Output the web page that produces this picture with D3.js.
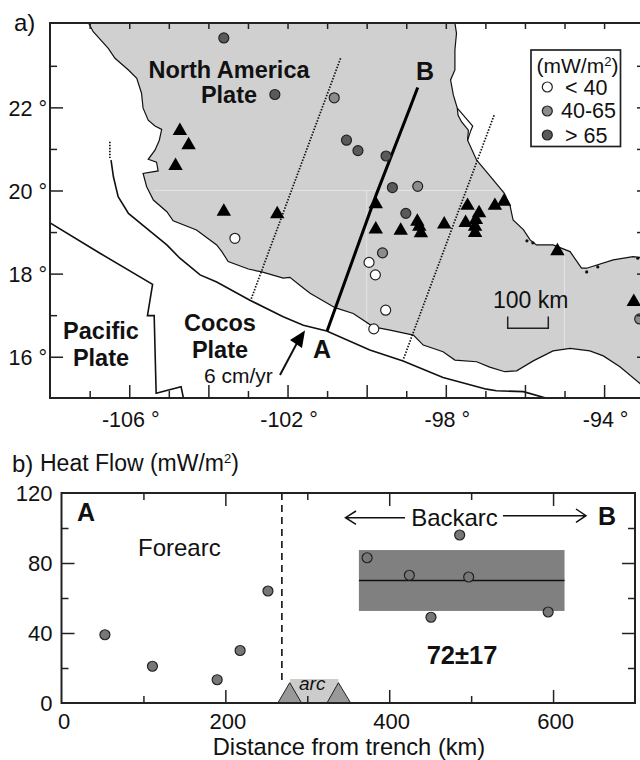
<!DOCTYPE html>
<html>
<head>
<meta charset="utf-8">
<script src="https://cdn.jsdelivr.net/npm/d3@7"></script>
<style>
body { margin: 0; background: #fff; }
text { font-family: "Liberation Sans", Arial, sans-serif; fill: #111; }
</style>
</head>
<body>
<div id="chart"></div>
<script>
// map outlines, all [lon, lat]
let landWest = [[-107.03,24.03],[-106.91,23.82],[-106.74,23.64],[-106.53,23.42],[-106.36,23.18],[-106.02,22.90],[-105.81,22.70],[-105.69,22.34],[-105.65,21.98],[-105.52,21.69],[-105.35,21.55],[-105.18,21.47],[-105.24,21.21],[-105.35,20.97],[-105.52,20.75],[-105.31,20.68],[-105.27,20.47],[-105.65,20.41],[-105.56,20.09],[-105.39,19.77],[-105.05,19.49],[-104.89,19.27],[-104.30,19.05],[-103.79,18.69],[-103.66,18.53],[-103.50,18.29],[-102.99,18.11],[-102.65,18.04],[-102.11,17.89],[-101.94,17.91],[-101.69,17.72],[-101.43,17.53],[-101.18,17.39],[-100.80,17.18],[-100.34,17.04],[-99.83,16.72],[-99.41,16.64],[-98.82,16.52],[-98.57,16.28],[-98.07,16.12],[-97.77,15.92],[-97.22,15.88],[-96.89,15.75],[-96.51,15.64],[-96.21,15.66],[-95.79,15.90],[-95.29,16.14],[-94.86,16.20],[-94.36,16.14],[-94.02,16.02],[-93.60,15.76],[-93.10,15.36],[-92.84,15.08]];
let landEast = [[-92.84,18.39],[-93.10,18.39],[-93.27,18.41],[-93.77,18.33],[-94.44,18.13],[-94.57,18.13],[-94.86,18.53],[-95.29,18.69],[-95.71,18.69],[-95.87,18.81],[-96.04,19.06],[-96.30,19.29],[-96.38,19.65],[-96.52,19.93],[-96.97,20.45],[-97.22,20.73],[-97.45,21.21],[-97.43,21.45],[-97.60,21.65],[-97.69,21.81],[-97.71,21.98],[-97.81,22.30],[-97.88,22.66],[-97.77,22.90],[-97.77,23.38],[-97.73,23.78],[-97.77,24.03]];
let barrier = [[-97.71,21.98],[-97.32,21.55],[-97.37,21.44],[-97.45,21.21]];
let coastSpecks = [[-94.44,18.04],[-94.16,18.16],[-93.15,18.37],[-95.80,18.74],[-95.95,18.79]];
let trench = [[-106.46,20.73],[-106.40,20.33],[-106.28,19.85],[-106.02,19.45],[-105.56,19.09],[-105.05,18.69],[-104.72,18.37],[-104.21,17.97],[-103.79,17.80],[-102.95,17.36],[-102.11,16.96],[-101.60,16.76],[-101.01,16.62],[-99.92,16.16],[-99.08,15.90],[-98.07,15.50],[-96.97,15.22],[-96.72,15.18],[-96.04,15.16],[-95.45,15.00]];
let trenchEnd = [[-106.49,21.17],[-106.49,20.78]];
let plateEdge = [[-108,19.22],[-106.74,18.49],[-105.41,17.74],[-105.54,16.99],[-105.37,16.99],[-105.32,15.12],[-104.69,15.28],[-104.63,15.00]];
let swathLeft = [[-100.66,23.18],[-102.93,17.36]];
let swathRight = [[-96.78,21.81],[-99.08,15.92]];
let profileAB = [[-98.71,22.48],[-98.91,21.98],[-99.77,19.87],[-101.00,16.62]];
let gridLines = [[[-105.39,20],[-96.5,20]],[[-100,20],[-100,16.68]],[[-95,18.6],[-95,16.18]]];

// heat flow sites on the map
let sitesHigh = [[-103.61,23.67],[-102.32,22.31],[-100.51,21.21],[-100.22,20.96],[-99.51,20.83],[-99.35,20.07],[-99.01,19.45]];
let sitesMid = [[-100.82,22.23],[-98.71,20.10],[-99.60,18.50],[-93.10,16.91]];
let sitesLow = [[-103.33,18.85],[-99.94,18.27],[-99.78,17.97],[-99.52,17.12],[-99.82,16.67]];
let volcanoes = [[-104.72,21.47],[-104.50,21.13],[-104.83,20.63],[-103.61,19.53],[-102.26,19.47],[-99.77,19.71],[-99.77,19.10],[-99.14,19.07],[-98.72,19.29],[-98.67,19.17],[-98.63,19.01],[-98.04,19.22],[-97.45,19.67],[-97.50,19.26],[-97.16,19.49],[-97.24,19.33],[-97.26,19.17],[-97.26,19.02],[-96.76,19.67],[-96.53,19.77],[-95.18,18.58],[-93.25,17.36]];

// panel b
let forearcDist = [53, 111, 190, 218, 252];
let forearcFlow = [39, 21, 13.3, 30, 64];
let backarcDist = [373, 424.6, 451, 486, 497, 594];
let backarcFlow = [83, 73, 49, 96, 72, 52];
let backarcBand = [363, 614, 52.6, 87.4];
let backarcMean = 70;
let arcFront = 269;
let arcBand = [279, 338, 13.7];
let arcPeaks = [[264, 278.6, 293], [324, 338, 353]];

let lonMajor = [-106, -104, -102, -100, -98, -96, -94];
let lonMinor = [-107, -105, -103, -101, -99, -97, -95, -93];
let lonLabels = [-106, -102, -98, -94];
let latMajor = [16, 18, 20, 22];
let latMinor = [17, 19, 21, 23];
let distMajor = [200, 400, 600];
let distMinor = [100, 300, 500];
let flowMajor = [40, 80];
let flowMinor = [20, 60, 100];

let svg = d3.select("#chart").append("svg").attr("width", 640).attr("height", 760);

let xMap = d3.scaleLinear().domain([-108, -92.84]).range([50.1, 650]);
let yMap = d3.scaleLinear().domain([15, 24.03]).range([398.3, 23]);
let xHeat = d3.scaleLinear().domain([0, 700]).range([61.5, 635]);
let yHeat = d3.scaleLinear().domain([0, 120]).range([703, 493]);

let mapLine = d3.line().x(d => xMap(d[0])).y(d => yMap(d[1]));

function label(x, y, str, size, opts) {
    opts = opts || {};
    return svg.append("text")
        .attr("x", x).attr("y", y)
        .attr("font-size", size)
        .attr("font-weight", opts.bold ? "bold" : null)
        .attr("font-style", opts.italic ? "italic" : null)
        .attr("text-anchor", opts.anchor || "start")
        .text(str);
}

function ticks(g, axis, size, color) {
    g.call(axis);
    g.select(".domain").remove();
    g.selectAll("line").attr("stroke", color || "#222").attr("stroke-width", 1.5);
    g.selectAll("text").attr("font-size", size).attr("fill", "#111").attr("font-family", null);
}

// ---------- a) map ----------
svg.append("clipPath").attr("id", "mapClip").append("rect")
    .attr("x", 50).attr("y", 23).attr("width", 600).attr("height", 375);

let map = svg.append("g").attr("clip-path", "url(#mapClip)");

map.append("path")
    .attr("d", mapLine(landWest.concat(landEast)) + "Z")
    .attr("fill", "#d0d0d0")
    .attr("stroke", "none");

map.selectAll(".grid").data(gridLines).enter().append("path")
    .attr("d", mapLine)
    .attr("fill", "none")
    .attr("stroke", "#e4e4e4")
    .attr("stroke-width", 1);

[landWest, landEast, barrier].forEach(function(c) {
    map.append("path").attr("d", mapLine(c)).attr("fill", "none").attr("stroke", "#111").attr("stroke-width", 1.2);
});
map.selectAll(".speck").data(coastSpecks).enter().append("circle")
    .attr("cx", d => xMap(d[0]))
    .attr("cy", d => yMap(d[1]))
    .attr("r", 1.6)
    .attr("fill", "#111");
[trench, plateEdge].forEach(function(c) {
    map.append("path").attr("d", mapLine(c)).attr("fill", "none").attr("stroke", "#111").attr("stroke-width", 1.6);
});
[trenchEnd, swathLeft, swathRight].forEach(function(c) {
    map.append("path").attr("d", mapLine(c)).attr("fill", "none").attr("stroke", "#111").attr("stroke-width", 1.7).attr("stroke-dasharray", "1.5 1.5");
});
map.append("path").attr("d", mapLine(profileAB)).attr("fill", "none").attr("stroke", "#000").attr("stroke-width", 3);

let triangle = d3.symbol().type(d3.symbolTriangle).size(90);
map.selectAll(".volcano").data(volcanoes).enter().append("path")
    .attr("d", triangle)
    .attr("fill", "#000")
    .attr("transform", d => "translate(" + xMap(d[0]) + "," + (yMap(d[1]) + 1.5) + ")");

function drawSites(list, fill) {
    map.selectAll(null).data(list).enter().append("circle")
        .attr("cx", d => xMap(d[0]))
        .attr("cy", d => yMap(d[1]))
        .attr("r", 5)
        .attr("fill", fill)
        .attr("stroke", "#222")
        .attr("stroke-width", 1.2);
}
drawSites(sitesHigh, "#5a5a5a");
drawSites(sitesMid, "#8c8c8c");
drawSites(sitesLow, "#ffffff");

svg.append("rect").attr("x", 50).attr("y", 23).attr("width", 600).attr("height", 375)
    .attr("fill", "none").attr("stroke", "#222").attr("stroke-width", 2);

let deg = d => d + " °";
ticks(svg.append("g").attr("transform", "translate(50,1)"),
    d3.axisLeft(yMap).tickValues(latMajor).tickSize(0).tickPadding(3).tickFormat(deg), 21.5);
ticks(svg.append("g").attr("transform", "translate(50,0)"),
    d3.axisLeft(yMap).tickValues(latMajor).tickSize(-13).tickFormat(""));
ticks(svg.append("g").attr("transform", "translate(50,0)"),
    d3.axisLeft(yMap).tickValues(latMinor).tickSize(-7).tickFormat(""));
ticks(svg.append("g").attr("transform", "translate(650,0)"),
    d3.axisRight(yMap).tickValues(latMajor).tickSize(-13).tickFormat(""));
ticks(svg.append("g").attr("transform", "translate(650,0)"),
    d3.axisRight(yMap).tickValues(latMinor).tickSize(-13).tickFormat(""));
ticks(svg.append("g").attr("transform", "translate(0,398)"),
    d3.axisBottom(xMap).tickValues(lonMajor).tickSize(-13).tickFormat(""));
ticks(svg.append("g").attr("transform", "translate(0,398)"),
    d3.axisBottom(xMap).tickValues(lonMinor).tickSize(-7).tickFormat(""));
ticks(svg.append("g").attr("transform", "translate(1,398)"),
    d3.axisBottom(xMap).tickValues(lonLabels).tickSize(0).tickPadding(14).tickFormat(deg), 21.5);
ticks(svg.append("g").attr("transform", "translate(0,23)"),
    d3.axisTop(xMap).tickValues(lonMajor.concat(lonMinor)).tickSize(-6).tickFormat(""));

label(14, 31, "a)", 24);
label(229, 77.7, "North America", 23.5, {bold: true, anchor: "middle"});
label(229, 103, "Plate", 23.5, {bold: true, anchor: "middle"});
label(101, 339.3, "Pacific", 23.5, {bold: true, anchor: "middle"});
label(101, 366, "Plate", 23.5, {bold: true, anchor: "middle"});
label(220, 331, "Cocos", 23.5, {bold: true, anchor: "middle"});
label(220, 357.7, "Plate", 23.5, {bold: true, anchor: "middle"});
label(204, 382.7, "6 cm/yr", 21);
label(313, 358, "A", 25, {bold: true});
label(416, 80, "B", 25, {bold: true});
label(493, 308, "100 km", 23);

// plate motion arrow
svg.append("line").attr("x1", 280).attr("y1", 375).attr("x2", 297).attr("y2", 343)
    .attr("stroke", "#111").attr("stroke-width", 2);
svg.append("path").attr("d", "M305,330.5L302,348L290,340Z").attr("fill", "#000");

// scale bar
svg.append("path").attr("d", "M507.7,316.5V328.3H548.3V316.5")
    .attr("fill", "none").attr("stroke", "#222").attr("stroke-width", 1.5);

// legend
svg.append("rect").attr("x", 531).attr("y", 50).attr("width", 89.5).attr("height", 96.5)
    .attr("fill", "#fff").attr("stroke", "#222").attr("stroke-width", 1.7);
let legendTop = label(536.5, 72.7, "(mW/m", 21);
legendTop.append("tspan").attr("font-size", 13).attr("dy", -7).text("2");
legendTop.append("tspan").attr("dy", 7).text(")");
let legendFills = ["#ffffff", "#8c8c8c", "#5a5a5a"];
let legendLabels = ["< 40", "40-65", "> 65"];
let legendX = [565, 561, 565];
let legendY = [95, 118.3, 142.7];
legendLabels.forEach(function(t, i) {
    svg.append("circle").attr("cx", 547.3).attr("cy", 87 + i * 24).attr("r", 5)
        .attr("fill", legendFills[i]).attr("stroke", "#222").attr("stroke-width", 1.2);
    label(legendX[i], legendY[i], t, 21.5);
});

// ---------- b) heat flow profile ----------
label(12, 471.5, "b)", 24);
let heatTitle = label(40, 471, "Heat Flow (mW/m", 23);
heatTitle.append("tspan").attr("font-size", 13).attr("dy", -8).text("2");
heatTitle.append("tspan").attr("dy", 8).text(")");

svg.append("rect")
    .attr("x", xHeat(backarcBand[0])).attr("width", xHeat(backarcBand[1]) - xHeat(backarcBand[0]))
    .attr("y", yHeat(backarcBand[3])).attr("height", yHeat(backarcBand[2]) - yHeat(backarcBand[3]))
    .attr("fill", "#808080");
svg.append("line")
    .attr("x1", xHeat(backarcBand[0])).attr("x2", xHeat(backarcBand[1]))
    .attr("y1", yHeat(backarcMean)).attr("y2", yHeat(backarcMean))
    .attr("stroke", "#111").attr("stroke-width", 1.5);

svg.append("rect")
    .attr("x", xHeat(arcBand[0])).attr("width", xHeat(arcBand[1]) - xHeat(arcBand[0]))
    .attr("y", yHeat(arcBand[2])).attr("height", yHeat(0) - yHeat(arcBand[2]))
    .attr("fill", "#cccccc");
svg.selectAll(".peak").data(arcPeaks).enter().append("path")
    .attr("d", d => d3.line()([[xHeat(d[0]), yHeat(0)], [xHeat(d[1]), yHeat(11.6)], [xHeat(d[2]), yHeat(0)]]) + "Z")
    .attr("fill", "#999999")
    .attr("stroke", "#222")
    .attr("stroke-width", 1);

svg.append("line")
    .attr("x1", xHeat(arcFront)).attr("x2", xHeat(arcFront))
    .attr("y1", yHeat(120)).attr("y2", yHeat(12))
    .attr("stroke", "#111").attr("stroke-width", 1.6).attr("stroke-dasharray", "7 5");

svg.selectAll(".fore").data(forearcDist).enter().append("circle")
    .attr("cx", d => xHeat(d))
    .attr("cy", (d, i) => yHeat(forearcFlow[i]))
    .attr("r", 5).attr("fill", "#777").attr("stroke", "#222").attr("stroke-width", 1.2);
svg.selectAll(".back").data(backarcDist).enter().append("circle")
    .attr("cx", d => xHeat(d))
    .attr("cy", (d, i) => yHeat(backarcFlow[i]))
    .attr("r", 5).attr("fill", "#777").attr("stroke", "#222").attr("stroke-width", 1.2);

svg.append("rect").attr("x", 61.5).attr("y", 493).attr("width", 573.5).attr("height", 210)
    .attr("fill", "none").attr("stroke", "#222").attr("stroke-width", 2);

ticks(svg.append("g").attr("transform", "translate(61.5,0)"),
    d3.axisLeft(yHeat).tickValues([0].concat(flowMajor, [120])).tickSize(0).tickPadding(9), 22);
ticks(svg.append("g").attr("transform", "translate(61.5,0)"),
    d3.axisLeft(yHeat).tickValues(flowMajor).tickSize(-13).tickFormat(""));
ticks(svg.append("g").attr("transform", "translate(61.5,0)"),
    d3.axisLeft(yHeat).tickValues(flowMinor).tickSize(-7).tickFormat(""));
ticks(svg.append("g").attr("transform", "translate(635,0)"),
    d3.axisRight(yHeat).tickValues(flowMajor).tickSize(-13).tickFormat(""));
ticks(svg.append("g").attr("transform", "translate(635,0)"),
    d3.axisRight(yHeat).tickValues(flowMinor).tickSize(-7).tickFormat(""));
ticks(svg.append("g").attr("transform", "translate(0,703)"),
    d3.axisBottom(xHeat).tickValues(distMajor).tickSize(-13).tickFormat(""));
ticks(svg.append("g").attr("transform", "translate(0,703)"),
    d3.axisBottom(xHeat).tickValues(distMinor).tickSize(-7).tickFormat(""));
ticks(svg.append("g").attr("transform", "translate(2,703)"),
    d3.axisBottom(xHeat).tickValues([0].concat(distMajor)).tickSize(0).tickPadding(10), 22);
ticks(svg.append("g").attr("transform", "translate(0,493)"),
    d3.axisTop(xHeat).tickValues(distMajor).tickSize(-13).tickFormat(""));
ticks(svg.append("g").attr("transform", "translate(0,493)"),
    d3.axisTop(xHeat).tickValues(distMinor).tickSize(-7).tickFormat(""));

label(349, 755, "Distance from trench (km)", 23.7, {anchor: "middle"});
label(77, 521, "A", 25, {bold: true});
label(598, 525, "B", 25, {bold: true});
label(138, 555.7, "Forearc", 24);
label(454.5, 526, "Backarc", 24, {anchor: "middle"});
label(462, 664, "72±17", 25.5, {bold: true, anchor: "middle"});
label(299, 690, "arc", 19, {italic: true});

// backarc arrows
svg.append("path").attr("d", "M405,517.7H345.5M356,511L345.5,517.7L356,524.3")
    .attr("fill", "none").attr("stroke", "#111").attr("stroke-width", 1.5);
svg.append("path").attr("d", "M503,515.7H586M576,509L586,515.7L576,522.3")
    .attr("fill", "none").attr("stroke", "#111").attr("stroke-width", 1.5);
</script>
</body>
</html>
